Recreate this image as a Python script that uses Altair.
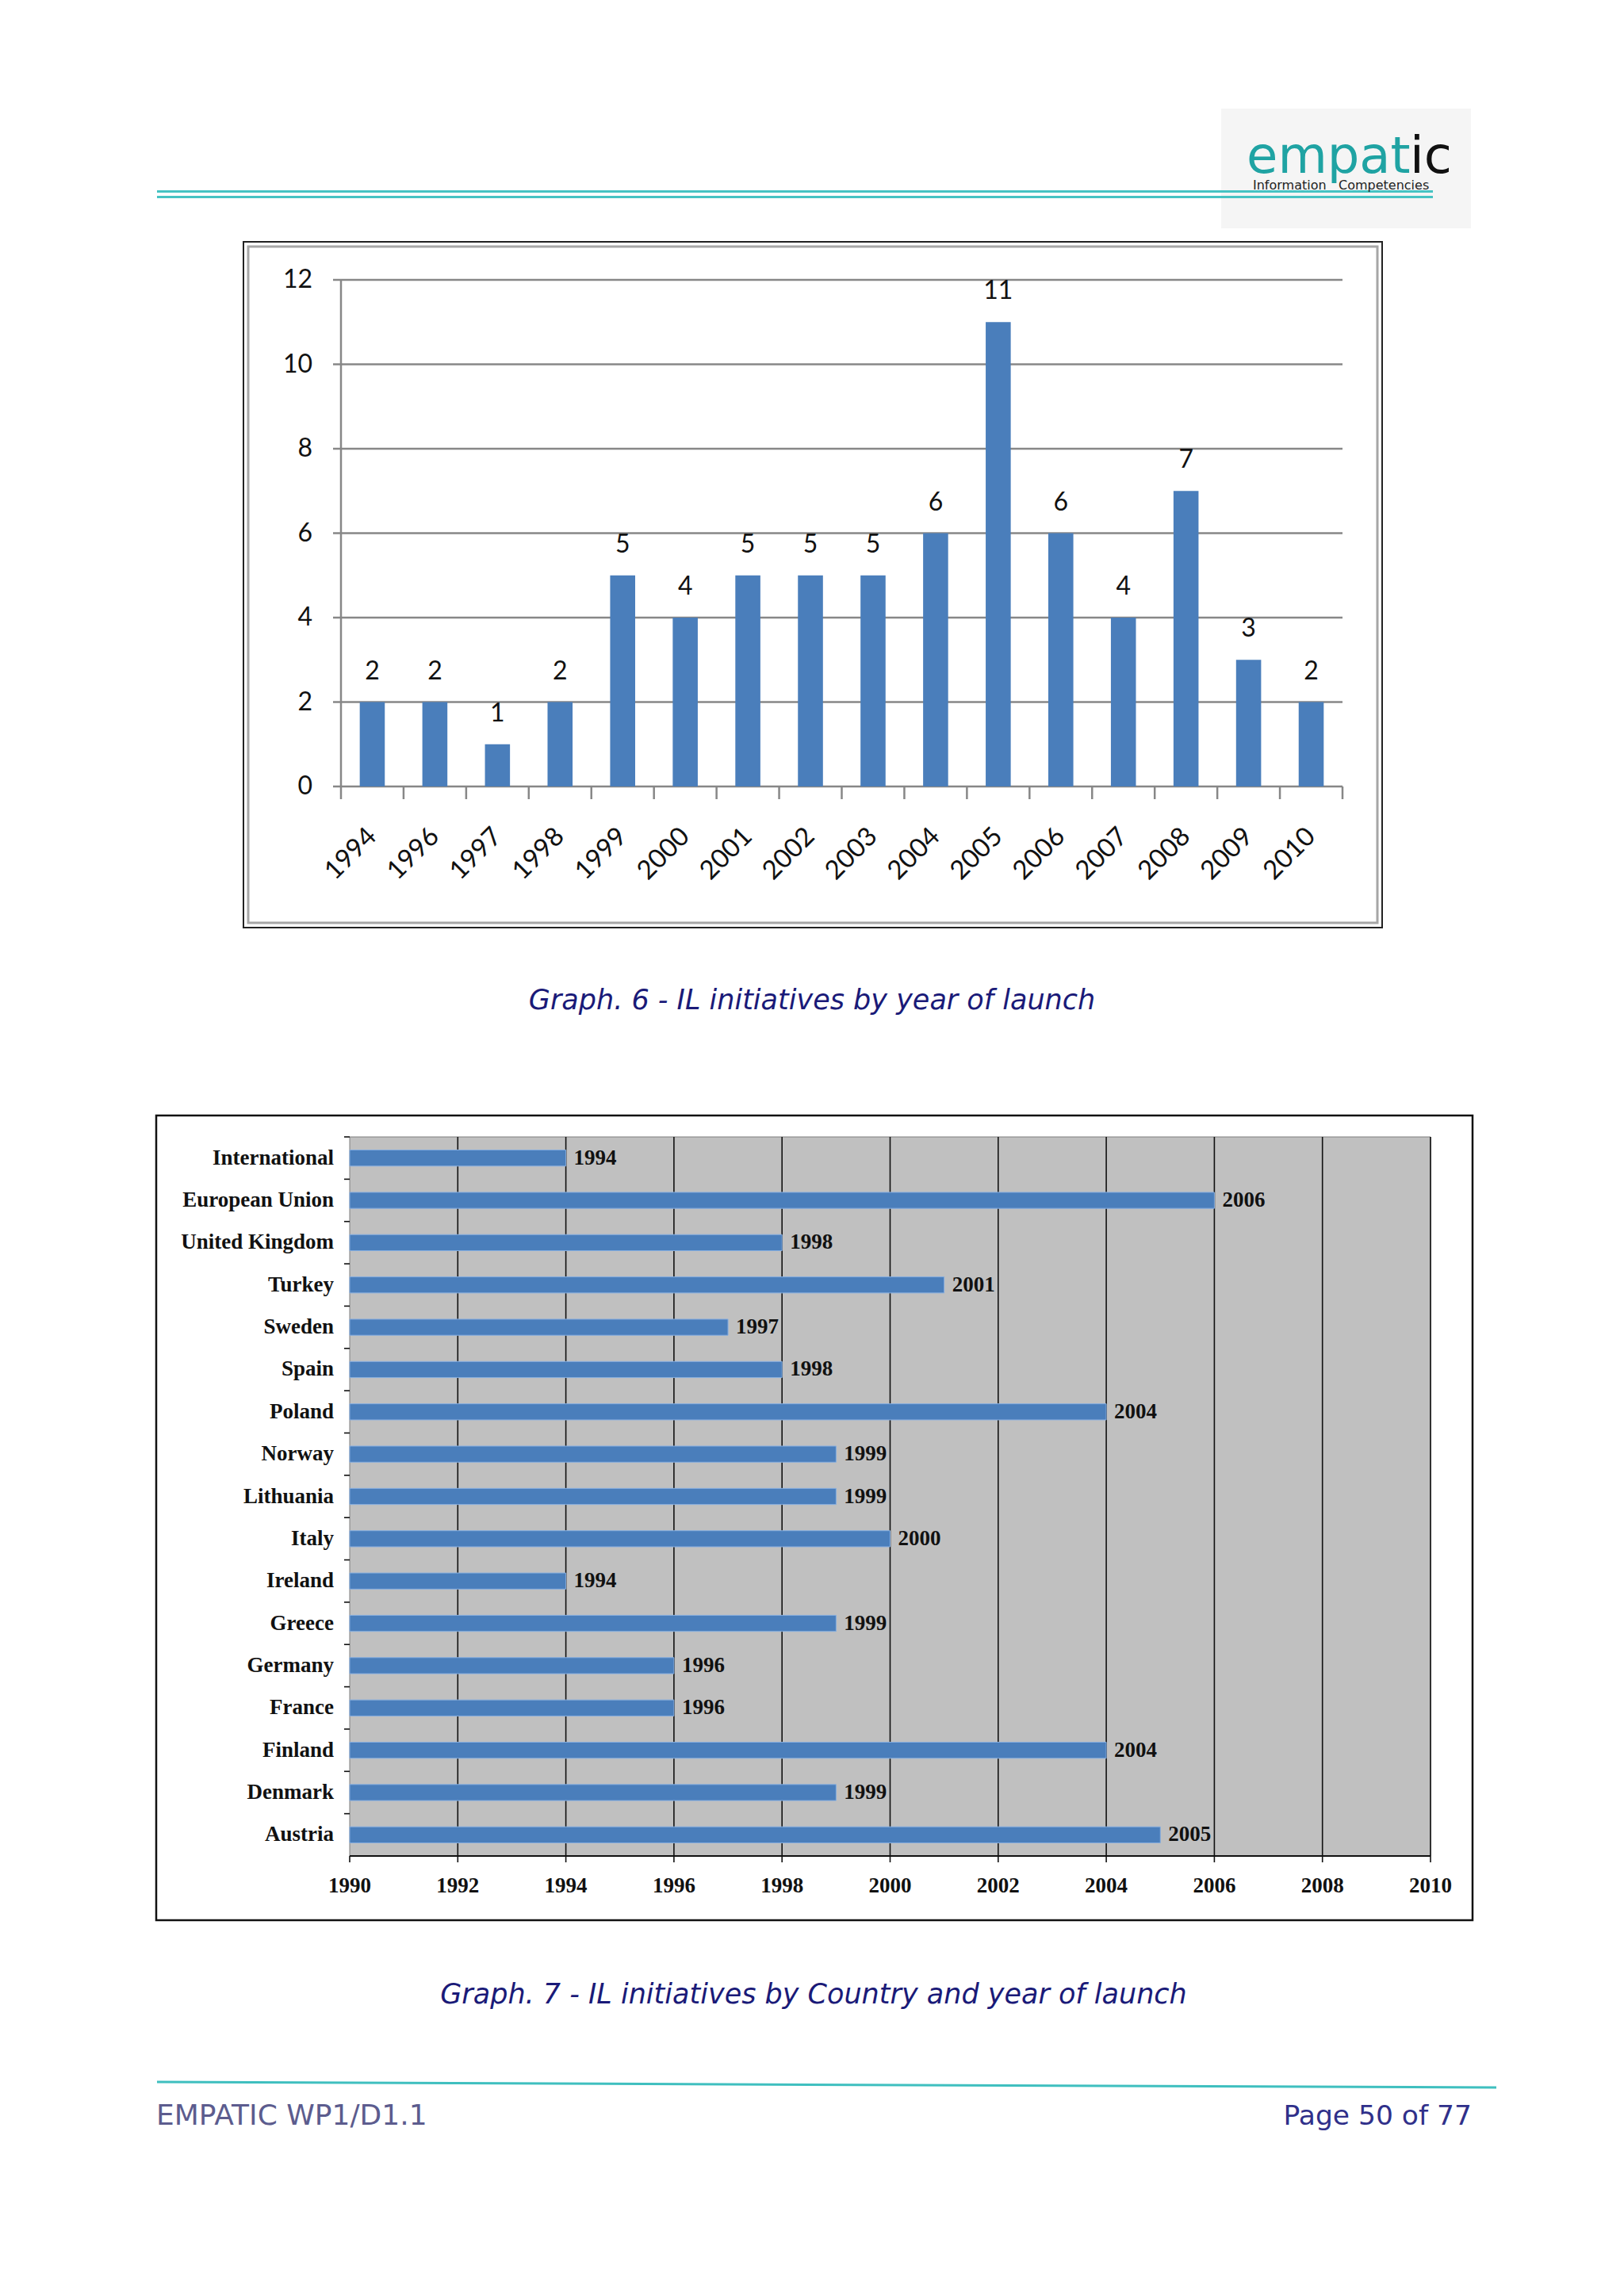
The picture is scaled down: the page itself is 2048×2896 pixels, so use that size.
import altair as alt
import pandas as pd

# ---------------- data ----------------
years1 = ["1994", "1996", "1997", "1998", "1999", "2000", "2001", "2002",
          "2003", "2004", "2005", "2006", "2007", "2008", "2009", "2010"]
counts1 = [2, 2, 1, 2, 5, 4, 5, 5, 5, 6, 11, 6, 4, 7, 3, 2]
yticks1 = [0, 2, 4, 6, 8, 10, 12]

countries2 = ["International", "European Union", "United Kingdom", "Turkey", "Sweden",
              "Spain", "Poland", "Norway", "Lithuania", "Italy", "Ireland", "Greece",
              "Germany", "France", "Finland", "Denmark", "Austria"]
launch2 = [1994, 2006, 1998, 2001, 1997, 1998, 2004, 1999, 1999, 2000, 1994, 1999,
           1996, 1996, 2004, 1999, 2005]
xticks2 = [1990, 1992, 1994, 1996, 1998, 2000, 2002, 2004, 2006, 2008, 2010]
xstart2 = 1990

caption1 = "Graph. 6 - IL initiatives by year of launch"
caption2 = "Graph. 7 - IL initiatives by Country and year of launch"
footer_left = "EMPATIC WP1/D1.1"
footer_right = "Page 50 of 77"
logo_a = "empat"
logo_b = "ic"
logo_sub1 = "Information"
logo_sub2 = "Competencies"

df1 = pd.DataFrame({"year": years1, "count": counts1})
dfy1 = pd.DataFrame({"v": yticks1})
dfgrid1 = pd.DataFrame({"v": yticks1})
df2 = pd.DataFrame({"country": countries2, "launch": launch2})
dfx2 = pd.DataFrame({"t": xticks2})
dfgrid2 = pd.DataFrame({"t": xticks2[1:]})


def P(v):
    # page pixel -> chart pixel (page has an 8px margin)
    return v - 8


def one(**kw):
    return alt.Chart(pd.DataFrame({k: [v] for k, v in kw.items()} if kw else {"a": [0]}))


BAR = "#4a7ebb"
GRID1 = "#878787"
TEAL = "#46c3c3"
NAVY = "#1a1a78"
F1 = "Lato"
F2 = "Liberation Serif"
FT = "DejaVu Sans"

# ---------------- scales ----------------
xs1 = alt.Scale(domain=years1, range=[P(430), P(1693)], paddingInner=0, paddingOuter=0)
ys1 = alt.Scale(domain=[0, 12], range=[P(992), P(353)], nice=False, zero=True)
xs2 = alt.Scale(domain=[1990, 2010], range=[P(441), P(1804)], nice=False, zero=False)
ys2 = alt.Scale(domain=countries2, range=[P(1434), P(2341)], paddingInner=0, paddingOuter=0)

layers = []

# ---------------- header ----------------
layers.append(one().mark_rect(fill="#f5f5f5").encode(
    x=alt.value(P(1540)), x2=alt.value(P(1855)), y=alt.value(P(137)), y2=alt.value(P(288))))
layers.append(one().mark_rect(fill=TEAL).encode(
    x=alt.value(P(198)), x2=alt.value(P(1807)), y=alt.value(P(240)), y2=alt.value(P(243))))
layers.append(one().mark_rect(fill=TEAL).encode(
    x=alt.value(P(198)), x2=alt.value(P(1807)), y=alt.value(P(247)), y2=alt.value(P(250))))
layers.append(one(t=logo_a).mark_text(font=FT, fontSize=64, color="#1fa3a3", align="left",
                                      baseline="alphabetic").encode(
    text="t:N", x=alt.value(P(1572)), y=alt.value(P(218))))
layers.append(one(t=logo_b).mark_text(font=FT, fontSize=64, color="#111111", align="left",
                                      baseline="alphabetic").encode(
    text="t:N", x=alt.value(P(1778)), y=alt.value(P(218))))
layers.append(one(t=logo_sub1).mark_text(font=FT, fontSize=16, color="#222222", align="left",
                                         baseline="alphabetic").encode(
    text="t:N", x=alt.value(P(1580)), y=alt.value(P(239))))
layers.append(one(t=logo_sub2).mark_text(font=FT, fontSize=16, color="#222222", align="left",
                                         baseline="alphabetic").encode(
    text="t:N", x=alt.value(P(1688)), y=alt.value(P(239))))

# ---------------- chart 1 frame ----------------
layers.append(one().mark_rect(fillOpacity=0, stroke="#222222", strokeWidth=2).encode(
    x=alt.value(P(307)), x2=alt.value(P(1743)), y=alt.value(P(305)), y2=alt.value(P(1170))))
layers.append(one().mark_rect(fillOpacity=0, stroke="#a6a6a6", strokeWidth=3).encode(
    x=alt.value(P(313)), x2=alt.value(P(1737)), y=alt.value(P(311)), y2=alt.value(P(1164))))

# gridlines + baseline
layers.append(alt.Chart(dfgrid1).mark_rule(color=GRID1, strokeWidth=2.5).encode(
    y=alt.Y("v:Q", scale=ys1, axis=None), x=alt.value(P(430)), x2=alt.value(P(1693))))
# y axis line
layers.append(one().mark_rule(color=GRID1, strokeWidth=2.5).encode(
    x=alt.value(P(430)), y=alt.value(P(353)), y2=alt.value(P(992))))
# y ticks
layers.append(alt.Chart(dfy1).mark_rule(color=GRID1, strokeWidth=2.5).encode(
    y=alt.Y("v:Q", scale=ys1, axis=None), x=alt.value(P(420)), x2=alt.value(P(430))))
# y labels
layers.append(alt.Chart(dfy1).mark_text(font=F1, fontSize=32, color="#111111", align="right",
                                        baseline="middle").encode(
    y=alt.Y("v:Q", scale=ys1, axis=None), x=alt.value(P(394)), text="v:Q"))
# x ticks at category boundaries
layers.append(alt.Chart(df1).mark_rule(color=GRID1, strokeWidth=2.5).encode(
    x=alt.X("year:N", scale=xs1, axis=None, bandPosition=0),
    y=alt.value(P(992)), y2=alt.value(P(1008))))
layers.append(alt.Chart(df1.tail(1)).mark_rule(color=GRID1, strokeWidth=2.5).encode(
    x=alt.X("year:N", scale=xs1, axis=None, bandPosition=1),
    y=alt.value(P(992)), y2=alt.value(P(1008))))
# bars
layers.append(alt.Chart(df1).mark_bar(color=BAR, width=alt.RelativeBandSize(0.4)).encode(
    x=alt.X("year:N", scale=xs1, axis=None),
    y=alt.Y("count:Q", scale=ys1, axis=None)))
# value labels
layers.append(alt.Chart(df1).mark_text(font=F1, fontSize=32, color="#111111", align="center",
                                       baseline="middle", dy=-39).encode(
    x=alt.X("year:N", scale=xs1, axis=None),
    y=alt.Y("count:Q", scale=ys1, axis=None), text="count:Q"))
# x labels rotated
layers.append(alt.Chart(df1).mark_text(font=F1, fontSize=33, color="#111111", align="right",
                                       baseline="middle", angle=315).encode(
    x=alt.X("year:N", scale=xs1, axis=None), y=alt.value(P(1050)), text="year:N"))

layers.append(one(t=caption1).mark_text(font=FT, fontSize=35, fontStyle="italic", color=NAVY,
                                        align="center", baseline="alphabetic").encode(
    text="t:N", x=alt.value(P(1024)), y=alt.value(P(1273))))

# ---------------- chart 2 ----------------
layers.append(one().mark_rect(fillOpacity=0, stroke="#111111", strokeWidth=2.5).encode(
    x=alt.value(P(197)), x2=alt.value(P(1857)), y=alt.value(P(1407)), y2=alt.value(P(2422))))
layers.append(one().mark_rect(fill="#c0c0c0", stroke="#7f7f7f", strokeWidth=1).encode(
    x=alt.value(P(441)), x2=alt.value(P(1804)), y=alt.value(P(1434)), y2=alt.value(P(2341))))
# vertical gridlines
layers.append(alt.Chart(dfgrid2).mark_rule(color="#111111", strokeWidth=1.6).encode(
    x=alt.X("t:Q", scale=xs2, axis=None), y=alt.value(P(1434)), y2=alt.value(P(2341))))
# x axis line + ticks
layers.append(one().mark_rule(color="#111111", strokeWidth=2).encode(
    x=alt.value(P(441)), x2=alt.value(P(1804)), y=alt.value(P(2341))))
layers.append(alt.Chart(dfx2).mark_rule(color="#111111", strokeWidth=1.6).encode(
    x=alt.X("t:Q", scale=xs2, axis=None), y=alt.value(P(2341)), y2=alt.value(P(2349))))
layers.append(alt.Chart(dfx2).mark_text(font=F2, fontSize=27, fontWeight="bold", color="#111111",
                                        align="center", baseline="middle").encode(
    x=alt.X("t:Q", scale=xs2, axis=None), y=alt.value(P(2379)), text="t:N"))
# y ticks at band boundaries
layers.append(alt.Chart(df2).mark_rule(color="#111111", strokeWidth=1.6).encode(
    y=alt.Y("country:N", scale=ys2, axis=None, bandPosition=0),
    x=alt.value(P(434)), x2=alt.value(P(441))))
# bars
layers.append(alt.Chart(df2).mark_bar(color=BAR, stroke="#86aee0", strokeWidth=1,
                                      height=alt.RelativeBandSize(0.38)).encode(
    y=alt.Y("country:N", scale=ys2, axis=None),
    x=alt.X("launch:Q", scale=xs2, axis=None), x2=alt.X2(datum=xstart2)))
# value labels
layers.append(alt.Chart(df2).mark_text(font=F2, fontSize=27, fontWeight="bold", color="#111111",
                                       align="left", baseline="middle", dx=10).encode(
    y=alt.Y("country:N", scale=ys2, axis=None),
    x=alt.X("launch:Q", scale=xs2, axis=None), text="launch:N"))
# category labels
layers.append(alt.Chart(df2).mark_text(font=F2, fontSize=27, fontWeight="bold", color="#111111",
                                       align="right", baseline="middle").encode(
    y=alt.Y("country:N", scale=ys2, axis=None), x=alt.value(P(421)), text="country:N"))

layers.append(one(t=caption2).mark_text(font=FT, fontSize=35, fontStyle="italic", color=NAVY,
                                        align="center", baseline="alphabetic").encode(
    text="t:N", x=alt.value(P(1026)), y=alt.value(P(2527))))

# ---------------- footer ----------------
layers.append(one().mark_rule(color="#3fbfbf", strokeWidth=3).encode(
    x=alt.value(P(198)), y=alt.value(P(2626)), x2=alt.value(P(1887)), y2=alt.value(P(2633))))
layers.append(one(t=footer_left).mark_text(font=FT, fontSize=36, color="#5c5c8e", align="left",
                                           baseline="alphabetic").encode(
    text="t:N", x=alt.value(P(197)), y=alt.value(P(2680))))
layers.append(one(t=footer_right).mark_text(font=FT, fontSize=34.5, color="#30308a", align="right",
                                            baseline="alphabetic").encode(
    text="t:N", x=alt.value(P(1856)), y=alt.value(P(2680))))

chart = alt.layer(*layers).resolve_scale(x="independent", y="independent").properties(
    width=2032, height=2880, padding=0,
    autosize=alt.AutoSizeParams(type="none"),
    background="#ffffff",
).configure_view(strokeWidth=0)

chart.save("out.html", embed_options={"renderer": "svg", "actions": False})
